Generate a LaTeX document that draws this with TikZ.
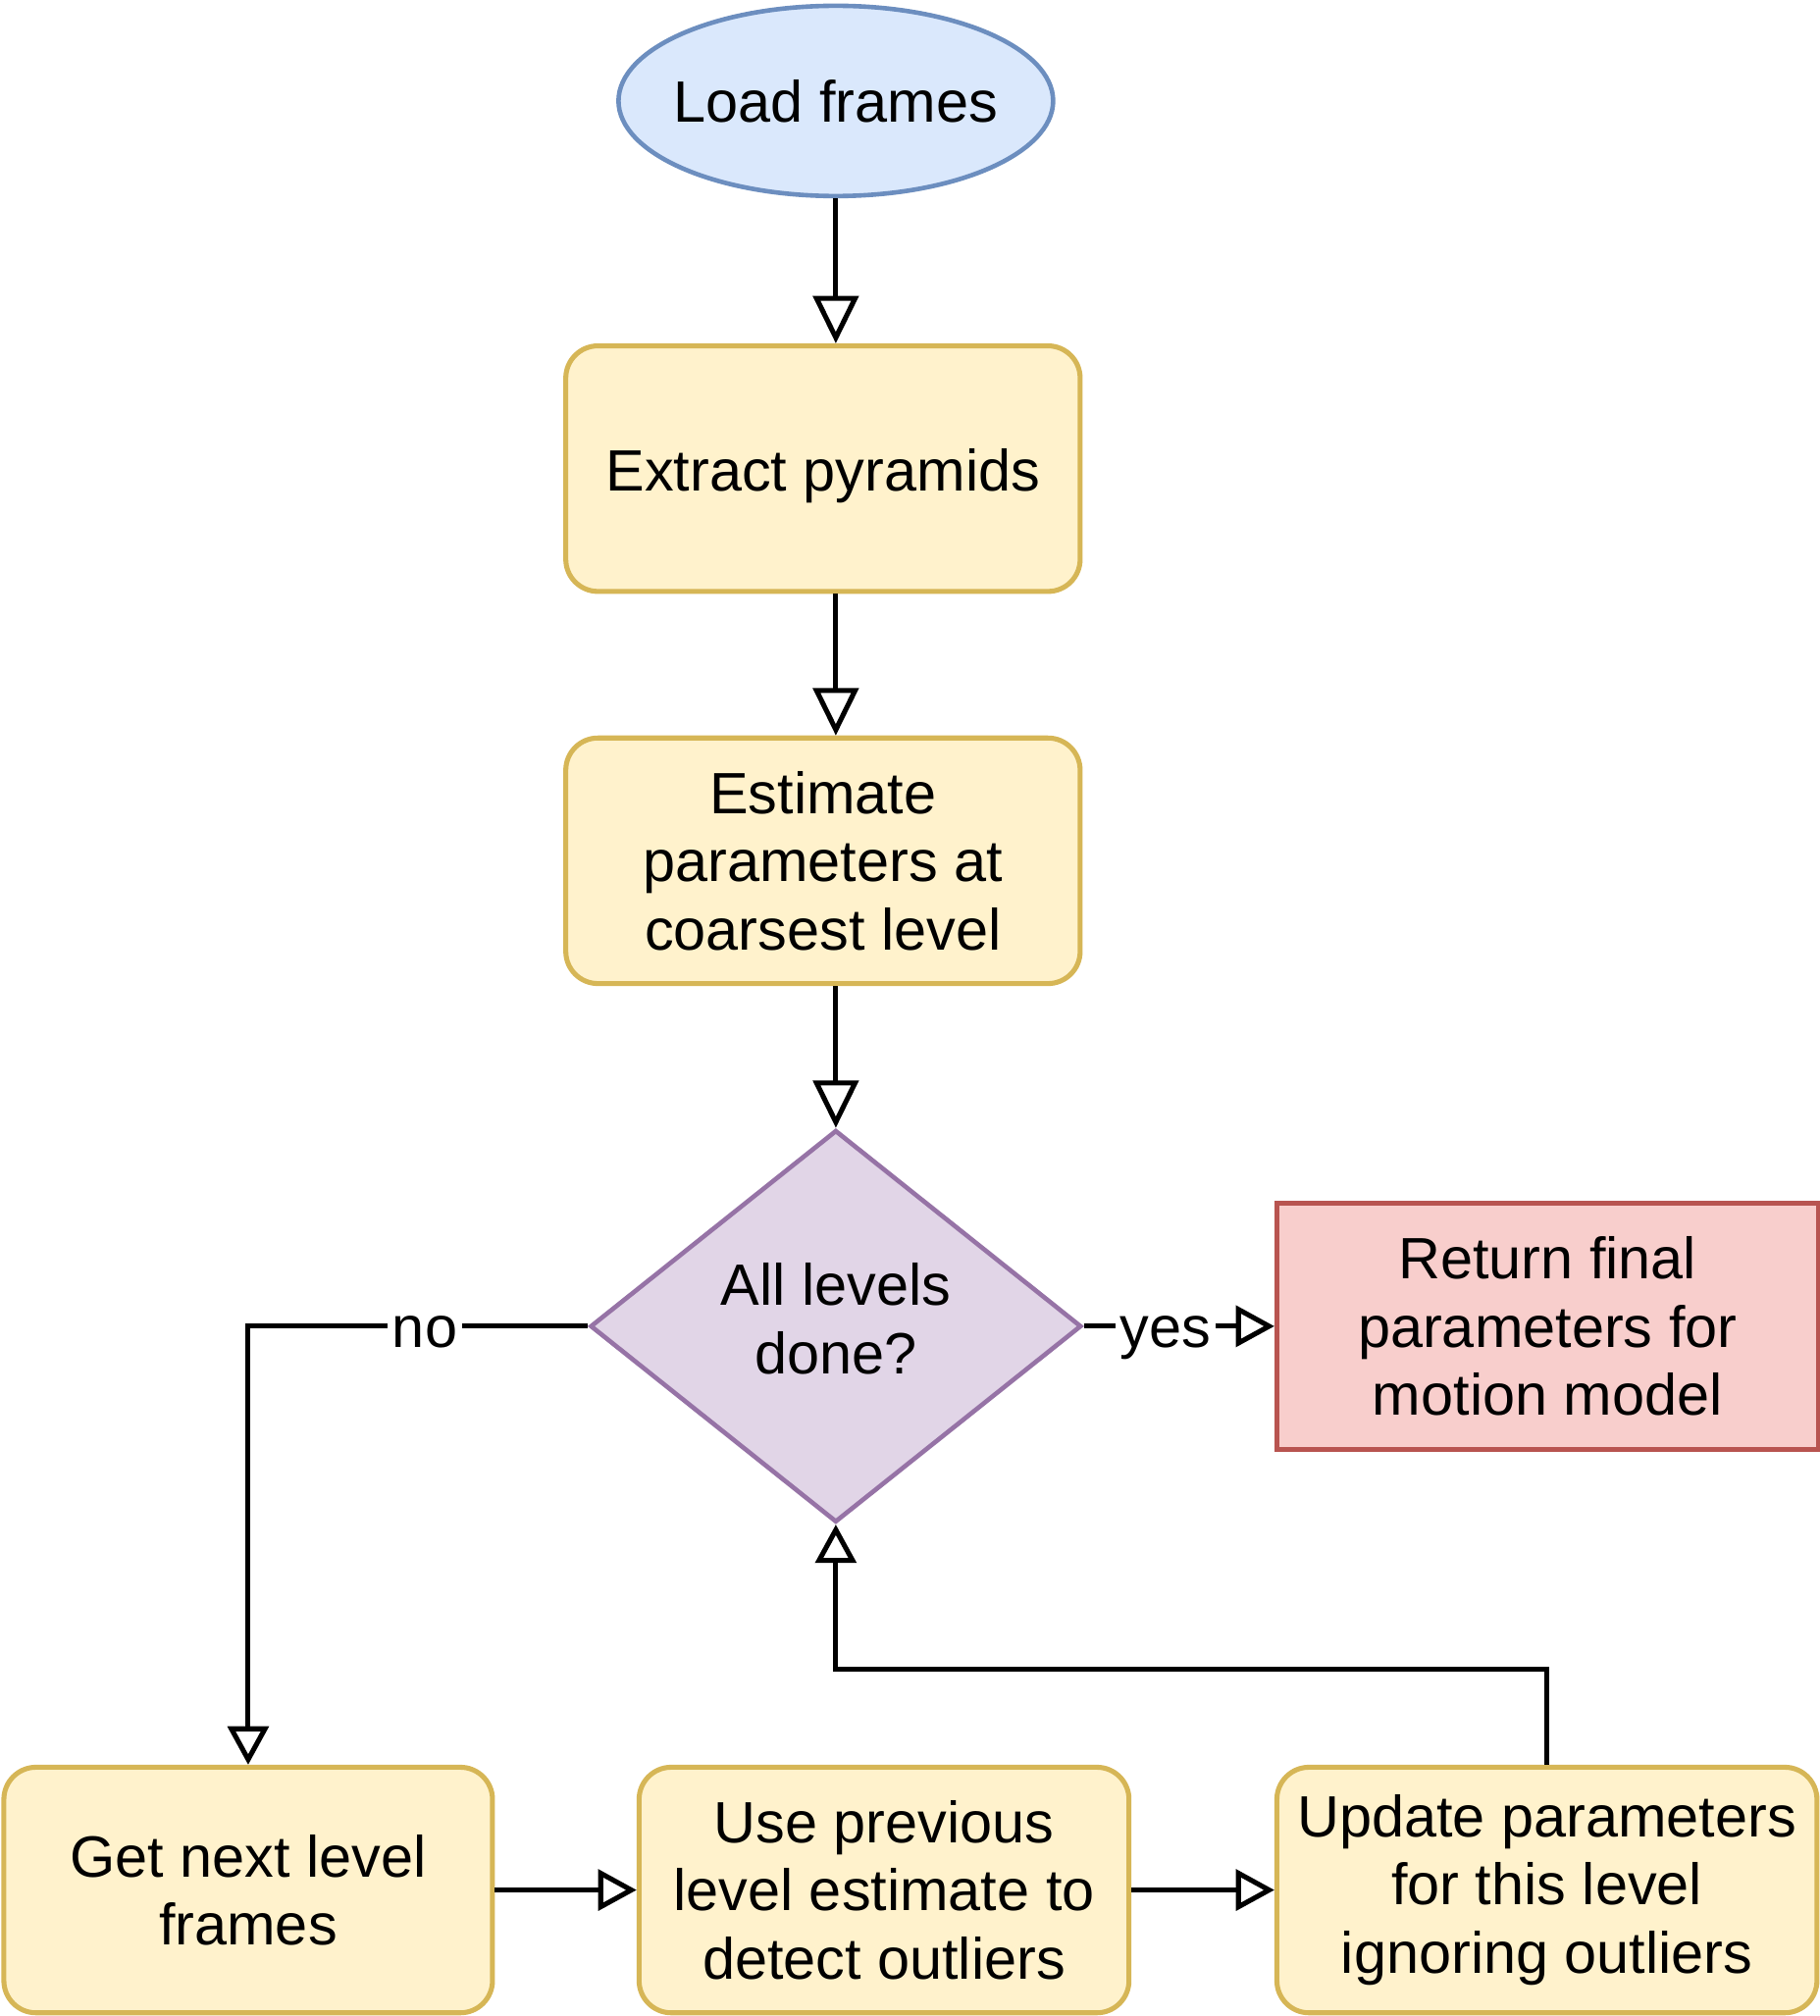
\documentclass[tikz,border=0pt]{standalone}
\usepackage{fontspec}
\setmainfont{Liberation Sans}
\usetikzlibrary{shapes.geometric,arrows.meta}

\definecolor{termfill}{HTML}{DAE8FC}
\definecolor{termline}{HTML}{6C8EBF}
\definecolor{boxfill}{HTML}{FFF2CC}
\definecolor{boxline}{HTML}{D6B656}
\definecolor{askfill}{HTML}{E1D5E7}
\definecolor{askline}{HTML}{9673A6}
\definecolor{endfill}{HTML}{F8CECC}
\definecolor{endline}{HTML}{B85450}

\begin{document}
\begin{tikzpicture}
	[
		txt/.style = {align=center, inner sep=0, font=\fontsize{12.9}{15.1}\selectfont},
		term/.style = {txt, shape=ellipse, inner xsep=-0.08cm, draw=termline, fill=termfill, line width=1pt, minimum width=3.38cm, minimum height=1.48cm},
		box/.style = {txt, shape=rectangle, draw=boxline, fill=boxfill, line width=1.1pt, rounded corners=0.25cm, minimum width=4cm, minimum height=1.91cm},
		decision/.style = {txt, shape=diamond, aspect=1.25, draw=askline, fill=askfill, line width=1pt, minimum width=3.82cm, minimum height=3.05cm},
		stopbox/.style = {txt, shape=rectangle, draw=endline, fill=endfill, line width=1.1pt, minimum width=4.21cm, minimum height=1.91cm},
		flow/.style = {draw, line width=1.1pt},
		bigtip/.style = {-{Triangle[open, length=10.5pt, width=10pt]}},
		smalltip/.style = {-{Triangle[open, length=8.5pt, width=9pt]}},
		lbl/.style = {fill=white, inner sep=1pt, text height=0.52em, text depth=0pt, yshift=-0.07cm, font=\fontsize{12.9}{15.1}\selectfont}
	]
	
	\useasboundingbox (0,0) rectangle (14.15,-15.68);
	
	\node [term] (load) at (6.50,-0.785) {Load frames};
	\node [box] (extract) at (6.40,-3.645) {\rule{0pt}{1.85ex}Extract pyramids};
	\node [box] (estimate) at (6.40,-6.695) {Estimate\\parameters at\\coarsest level};
	\node [decision] (done) at (6.50,-10.315) {All levels\\done?\rule[-0.5ex]{0pt}{0pt}};
	\node [stopbox] (final) at (12.035,-10.315) {Return final\\parameters for\\motion model};
	
	\node [box, minimum width=3.8cm] (next) at (1.93,-14.70) {Get next level\\frames};
	\node [box, minimum width=3.81cm] (outliers) at (6.875,-14.70) {Use previous\\level estimate to\\detect outliers};
	\node [box, minimum width=4.2cm] (update) at (12.03,-14.70) {Update parameters\\for this level\\ignoring outliers};
	
	\coordinate (back) at (6.50,-12.98);
	
	\draw [flow, bigtip] (load.south) -- (load.south |- extract.north);
	\draw [flow, bigtip] (extract.south -| load) -- (estimate.north -| load);
	\draw [flow, bigtip] (estimate.south -| done) -- (done.north);
	
	\draw [flow, smalltip] (done.west) -| node [lbl, pos=0.24] {no} (next.north);
	\draw [flow, smalltip] (done.east) -- node [lbl, pos=0.43] {yes} (final.west);
	
	\draw [flow, smalltip] (next.east) -- (outliers.west);
	\draw [flow, smalltip] (outliers.east) -- (update.west);
	\draw [flow, smalltip] (update.north) |- (back) -- (done.south);
	
\end{tikzpicture}
\end{document}
